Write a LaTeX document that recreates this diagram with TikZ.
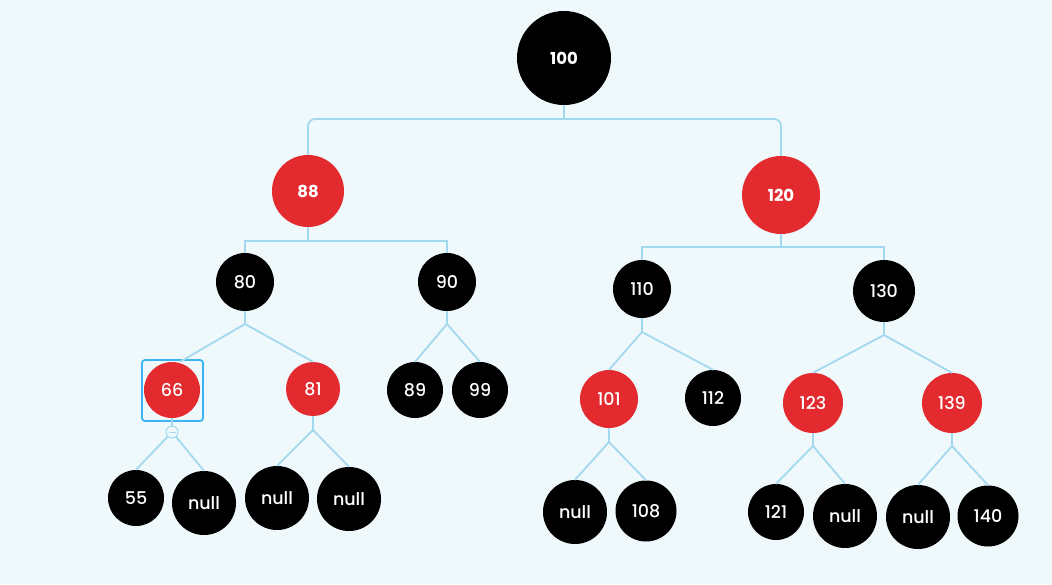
\documentclass[tikz,border=0pt]{standalone}
\usepackage{fontspec}
\setmainfont{Poppins}[UprightFont=* Medium, BoldFont=* Bold]
\definecolor{bgc}{HTML}{EFF8FB}
\definecolor{edgec}{HTML}{A3D9EE}
\definecolor{redc}{HTML}{E32B2F}
\definecolor{selc}{HTML}{3DB4F2}
\tikzset{
  bn/.style={circle, fill=black, text=white, inner sep=0pt, minimum size=#1pt, font=\fontsize{17.5}{17.5}\selectfont},
  rn/.style={circle, fill=redc, text=white, inner sep=0pt, minimum size=#1pt, font=\fontsize{17.5}{17.5}\selectfont},
  boldtxt/.style={font=\fontsize{16.5}{16.5}\selectfont\bfseries},
  edge/.style={draw=edgec, line width=1.8pt},
}
\begin{document}
\begin{tikzpicture}[x=1pt,y=-1pt]
\fill[bgc] (0,0) rectangle (1052,584);
\useasboundingbox (0,0) rectangle (1052,584);
% nodes
\node[bn=94, boldtxt] (n100) at (564,58) {100};
\node[rn=72, boldtxt] (n88) at (308,191) {88};
\node[rn=78, boldtxt] (n120) at (781,195) {120};
\node[bn=58] (n80) at (245,282) {80};
\node[bn=58] (n90) at (447,282) {90};
\node[bn=58] (n110) at (642,289) {110};
\node[bn=62] (n130) at (884,291) {130};
\node[rn=56] (n66) at (172,390) {66};
\node[rn=54] (n81) at (313,389) {81};
\node[bn=56] (n89) at (415,390) {89};
\node[bn=56] (n99) at (480,390) {99};
\node[rn=58] (n101) at (609,399) {101};
\node[bn=56] (n112) at (713,398) {112};
\node[rn=60] (n123) at (813,403) {123};
\node[rn=60] (n139) at (952,403) {139};
\node[bn=56] (n55) at (136,498) {55};
\node[bn=64] (nl1) at (204,503) {null};
\node[bn=64] (nl2) at (277,498) {null};
\node[bn=64] (nl3) at (349,499) {null};
\node[bn=64] (nl4) at (575,512) {null};
\node[bn=61] (n108) at (646,511) {108};
\node[bn=56] (n121) at (776,512) {121};
\node[bn=64] (nl5) at (845,516) {null};
\node[bn=64] (nl6) at (918,517) {null};
\node[bn=61] (n140) at (988,516) {140};
% selection box and collapse handle
\node[draw=selc, line width=1.8pt, rounded corners=3pt, minimum size=61pt, inner sep=0pt] (sel) at (172.5,390.5) {};
\node[circle, draw=edgec, fill=bgc, line width=1pt, minimum size=12pt, inner sep=0pt] (tog) at (172,432) {};
\draw[edgec, line width=0.8pt] ([xshift=-3.5pt]tog.center) -- ([xshift=3.5pt]tog.center);
% junction coordinates
\coordinate (j100) at (564,119);
\coordinate (j88) at (308,241);
\coordinate (j120) at (781,247);
\coordinate (j80) at (245,324);
\coordinate (j90) at (447,324);
\coordinate (j110) at (642,332);
\coordinate (j130) at (884,335);
\coordinate (j81) at (313,430);
\coordinate (j101) at (609,442);
\coordinate (j123) at (813,446);
\coordinate (j139) at (952,446);
% edges
\draw[edge] (n100.south) -- (j100);
\draw[edge, rounded corners=7pt] (j100) -| (n88.north);
\draw[edge, rounded corners=7pt] (j100) -| (n120.north);
\draw[edge] (n88.south) -- (j88);
\draw[edge] (j88) -| (n80.north);
\draw[edge] (j88) -| (n90.north);
\draw[edge] (n120.south) -- (j120);
\draw[edge] (j120) -| (n110.north);
\draw[edge] (j120) -| (n130.north);
\draw[edge] (n80.south) -- (j80);
\draw[edge] (j80) -- ([xshift=8pt]n66.north);
\draw[edge] (j80) -- (n81.north);
\draw[edge] (n90.south) -- (j90);
\draw[edge] (j90) -- (n89.north);
\draw[edge] (j90) -- (n99.north);
\draw[edge] (n110.south) -- (j110);
\draw[edge] (j110) -- (n101.north);
\draw[edge] (j110) -- (n112.north);
\draw[edge] (n130.south) -- (j130);
\draw[edge] (j130) -- (n123.north);
\draw[edge] (j130) -- (n139.north);
\draw[edge] (n66.south) -- (tog.north);
\draw[edge] (tog) -- (n55.north);
\draw[edge] (tog) -- (nl1.north);
\draw[edge] (n81.south) -- (j81);
\draw[edge] (j81) -- (nl2.north);
\draw[edge] (j81) -- (nl3.north);
\draw[edge] (n101.south) -- (j101);
\draw[edge] (j101) -- (nl4.north);
\draw[edge] (j101) -- (n108.north);
\draw[edge] (n123.south) -- (j123);
\draw[edge] (j123) -- (n121.north);
\draw[edge] (j123) -- (nl5.north);
\draw[edge] (n139.south) -- (j139);
\draw[edge] (j139) -- (nl6.north);
\draw[edge] (j139) -- (n140.north);
\end{tikzpicture}
\end{document}
